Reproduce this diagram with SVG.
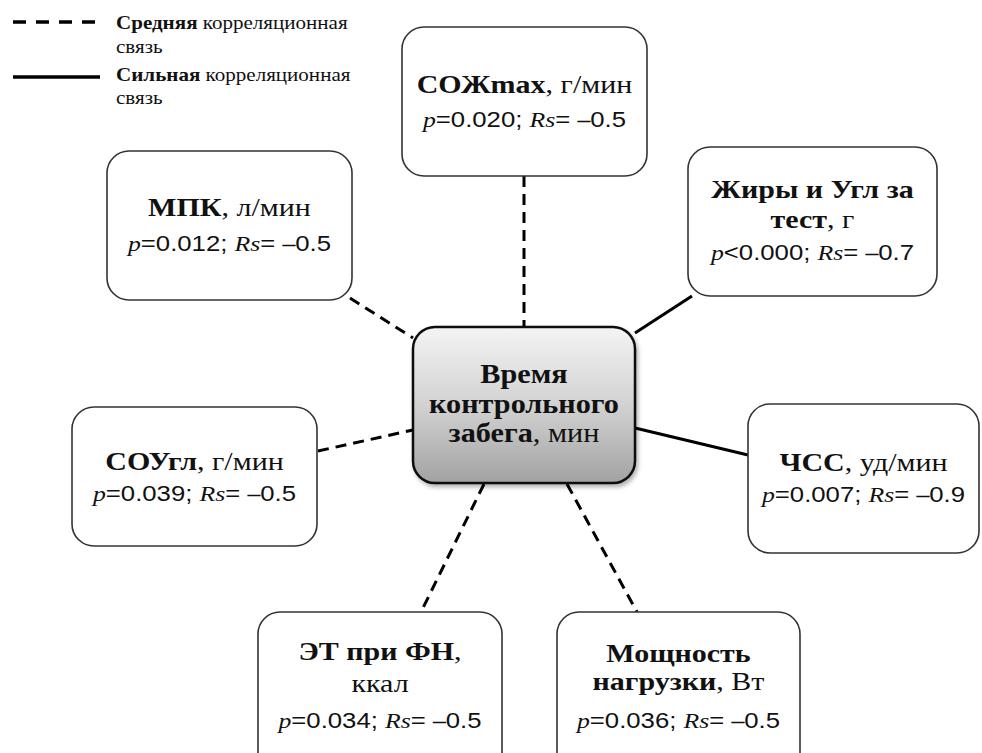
<svg xmlns="http://www.w3.org/2000/svg" width="982" height="753" viewBox="0 0 982 753">
<defs>
<linearGradient id="cg" x1="0" y1="0" x2="0" y2="1">
<stop offset="0" stop-color="#f4f4f4"/>
<stop offset="0.5" stop-color="#d2d2d2"/>
<stop offset="1" stop-color="#a2a2a2"/>
</linearGradient>
<filter id="sh" x="-10%" y="-10%" width="130%" height="130%">
<feDropShadow dx="2" dy="3" stdDeviation="2" flood-color="#000" flood-opacity="0.3"/>
</filter>
</defs>
<style>
text{font-family:"Liberation Serif",serif;fill:#111;}
.lab{font-size:25px;text-anchor:middle;}
.st{font-size:22px;text-anchor:middle;}
.ctr{font-size:28px;text-anchor:middle;font-weight:bold;}
.b{font-weight:bold;}
.n{font-weight:normal;}
.it{font-style:italic;}
.sn{font-family:"Liberation Sans",Arial,sans-serif;}
.leg{font-size:18px;}
.box{fill:#fff;stroke:#333;stroke-width:1.6;}
.dash{stroke:#000;stroke-width:3;stroke-dasharray:11 7;fill:none;}
.solid{stroke:#000;stroke-width:3;fill:none;}
</style>
<rect width="982" height="753" fill="#fff"/>
<g id="legend">
<line x1="13" y1="22" x2="96" y2="22" stroke="#000" stroke-width="3.5" stroke-dasharray="13 10"/>
<line x1="13" y1="77" x2="100" y2="77" stroke="#000" stroke-width="3.5"/>
<g transform="translate(116,0) scale(1.17,1)">
<text class="leg" x="0" y="29"><tspan class="b">Средняя</tspan> корреляционная</text>
<text class="leg" x="0" y="53">связь</text>
<text class="leg" x="0" y="81"><tspan class="b">Сильная</tspan> корреляционная</text>
<text class="leg" x="0" y="104">связь</text>
</g>
</g>
<g id="connectors">
<line class="dash" x1="524" y1="176" x2="524" y2="327"/>
<line class="dash" x1="350" y1="298" x2="413" y2="338"/>
<line class="solid" x1="635" y1="333" x2="692" y2="296"/>
<line class="dash" x1="318" y1="451" x2="413" y2="430"/>
<line class="solid" x1="635" y1="428" x2="748" y2="455"/>
<line class="dash" x1="484" y1="484" x2="421" y2="612"/>
<line class="dash" x1="567" y1="484" x2="637" y2="612"/>
</g>
<g id="center">
<rect x="413" y="327" width="222" height="156" rx="22" fill="url(#cg)" stroke="#111" stroke-width="2.5" filter="url(#sh)"/>
<g transform="translate(524,0) scale(1.08,1)">
<text class="ctr" x="0" y="383">Время</text>
<text class="ctr" x="0" y="413">контрольного</text>
<text class="ctr" x="0" y="442">забега<tspan class="n">, мин</tspan></text>
</g>
</g>
<g id="sozh">
<rect class="box" x="402" y="27" width="245" height="149" rx="22"/>
<g transform="translate(524.5,0) scale(1.2,1)">
<text class="lab" x="0" y="93"><tspan class="b">СОЖmax</tspan>, г/мин</text>
</g>
<g transform="translate(524.5,0) scale(1.17,1)">
<text class="st" x="0" y="127"><tspan class="it">p</tspan><tspan class="sn">=0.020; </tspan><tspan class="it">Rs</tspan><tspan class="sn">= </tspan><tspan class="b">–</tspan><tspan class="sn">0.5</tspan></text>
</g>
</g>
<g id="mpk">
<rect class="box" x="107" y="151" width="245" height="149" rx="22"/>
<g transform="translate(229.5,0) scale(1.2,1)">
<text class="lab" x="0" y="216"><tspan class="b">МПК</tspan>, л/мин</text>
</g>
<g transform="translate(229.5,0) scale(1.17,1)">
<text class="st" x="0" y="251"><tspan class="it">p</tspan><tspan class="sn">=0.012; </tspan><tspan class="it">Rs</tspan><tspan class="sn">= </tspan><tspan class="b">–</tspan><tspan class="sn">0.5</tspan></text>
</g>
</g>
<g id="fats">
<rect class="box" x="688" y="147" width="249" height="149" rx="22"/>
<g transform="translate(812.5,0) scale(1.2,1)">
<text class="lab" x="0" y="198"><tspan class="b">Жиры и Угл за</tspan></text>
<text class="lab" x="0" y="228"><tspan class="b">тест</tspan>, г</text>
</g>
<g transform="translate(812.5,0) scale(1.17,1)">
<text class="st" x="0" y="260"><tspan class="it">p</tspan><tspan class="sn">&lt;0.000; </tspan><tspan class="it">Rs</tspan><tspan class="sn">= </tspan><tspan class="b">–</tspan><tspan class="sn">0.7</tspan></text>
</g>
</g>
<g id="sougl">
<rect class="box" x="72" y="407" width="245" height="139" rx="22"/>
<g transform="translate(194.5,0) scale(1.2,1)">
<text class="lab" x="0" y="470"><tspan class="b">СОУгл</tspan>, г/мин</text>
</g>
<g transform="translate(194.5,0) scale(1.17,1)">
<text class="st" x="0" y="501"><tspan class="it">p</tspan><tspan class="sn">=0.039; </tspan><tspan class="it">Rs</tspan><tspan class="sn">= </tspan><tspan class="b">–</tspan><tspan class="sn">0.5</tspan></text>
</g>
</g>
<g id="chss">
<rect class="box" x="748" y="404" width="231" height="149" rx="22"/>
<g transform="translate(863.5,0) scale(1.2,1)">
<text class="lab" x="0" y="471"><tspan class="b">ЧСС</tspan>, уд/мин</text>
</g>
<g transform="translate(863.5,0) scale(1.17,1)">
<text class="st" x="0" y="502"><tspan class="it">p</tspan><tspan class="sn">=0.007; </tspan><tspan class="it">Rs</tspan><tspan class="sn">= </tspan><tspan class="b">–</tspan><tspan class="sn">0.9</tspan></text>
</g>
</g>
<g id="et">
<rect class="box" x="258" y="612" width="244" height="170" rx="22"/>
<g transform="translate(380,0) scale(1.2,1)">
<text class="lab" x="0" y="660"><tspan class="b">ЭТ при ФН</tspan>,</text>
<text class="lab" x="0" y="692">ккал</text>
</g>
<g transform="translate(380,0) scale(1.17,1)">
<text class="st" x="0" y="728"><tspan class="it">p</tspan><tspan class="sn">=0.034; </tspan><tspan class="it">Rs</tspan><tspan class="sn">= </tspan><tspan class="b">–</tspan><tspan class="sn">0.5</tspan></text>
</g>
</g>
<g id="power">
<rect class="box" x="557" y="612" width="243" height="170" rx="22"/>
<g transform="translate(678.5,0) scale(1.2,1)">
<text class="lab" x="0" y="662"><tspan class="b">Мощность</tspan></text>
<text class="lab" x="0" y="690"><tspan class="b">нагрузки</tspan>, Вт</text>
</g>
<g transform="translate(678.5,0) scale(1.17,1)">
<text class="st" x="0" y="728"><tspan class="it">p</tspan><tspan class="sn">=0.036; </tspan><tspan class="it">Rs</tspan><tspan class="sn">= </tspan><tspan class="b">–</tspan><tspan class="sn">0.5</tspan></text>
</g>
</g>
</svg>
